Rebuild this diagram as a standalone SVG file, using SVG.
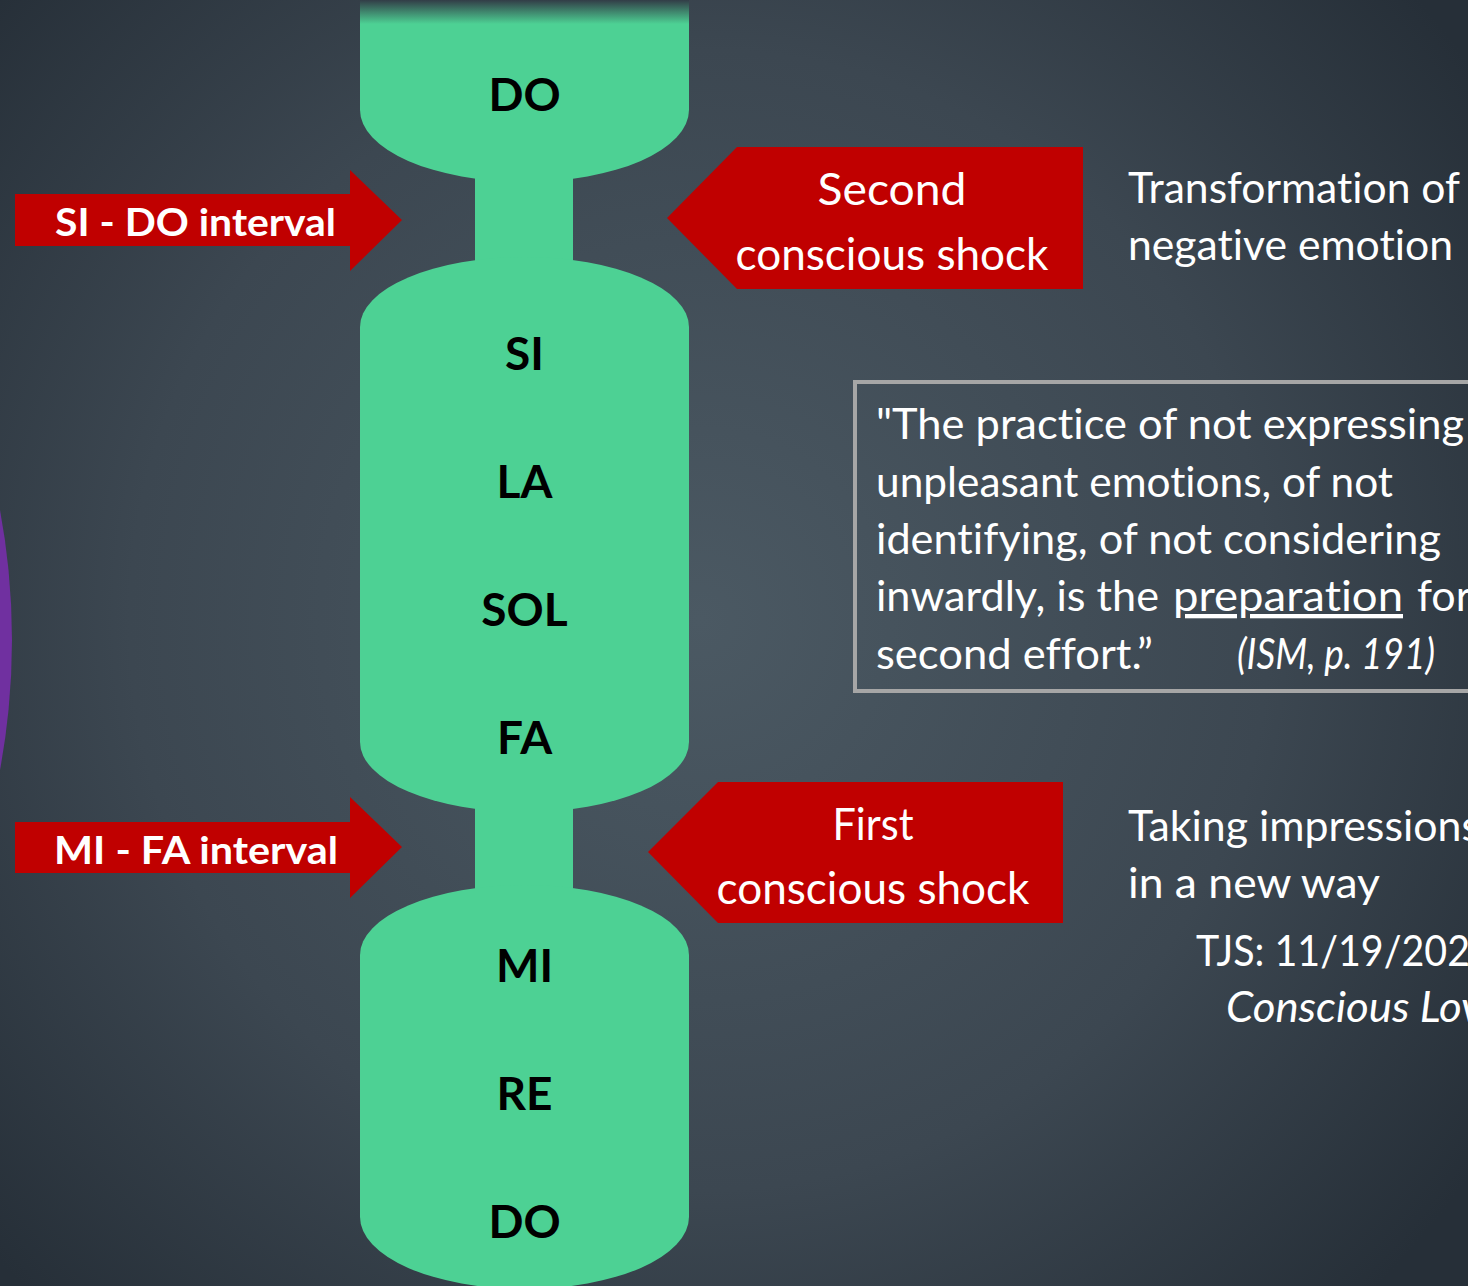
<svg xmlns="http://www.w3.org/2000/svg" width="1468" height="1286" viewBox="0 0 1468 1286">
<defs>
<radialGradient id="bg" gradientUnits="userSpaceOnUse" cx="700" cy="620" r="950">
<stop offset="0" stop-color="#4b5963"/>
<stop offset="0.6" stop-color="#3c4751"/>
<stop offset="1" stop-color="#262f38"/>
</radialGradient>
<linearGradient id="fade" x1="0" y1="0" x2="0" y2="1">
<stop offset="0" stop-color="#323d47" stop-opacity="1"/>
<stop offset="1" stop-color="#323d47" stop-opacity="0"/>
</linearGradient>
<style>
text{font-variant-ligatures:none}
.green{fill:#4dd194}
.note{font-family:Lato,"DejaVu Sans",sans-serif;font-weight:bold;font-size:46px;fill:#000;text-anchor:middle}
.red{fill:#c00000}
.intv{font-family:Lato,"Liberation Sans",sans-serif;font-weight:bold;font-size:38px;fill:#fff}
.shock{font-family:Lato,"DejaVu Sans",sans-serif;font-size:44px;fill:#fff;text-anchor:middle}
.body{font-family:Lato,"DejaVu Sans",sans-serif;font-size:43px;fill:#fff}
.it{font-style:italic}
</style>
</defs>
<rect width="1468" height="1286" fill="url(#bg)"/>
<circle cx="-698" cy="640" r="710" fill="#7030a0"/>

<g id="scale">
<path class="green" d="M360,0 L689,0 L689,110 A164.5,72 0 0 1 360,110 Z"/>
<rect class="green" x="475" y="165" width="98" height="105"/>
<path class="green" d="M360,327 A164.5,70 0 0 1 689,327 L689,742 A164.5,70 0 0 1 360,742 Z"/>
<rect class="green" x="475" y="795" width="98" height="100"/>
<path class="green" d="M360,955 A164.5,70 0 0 1 689,955 L689,1217 A164.5,72 0 0 1 360,1217 Z"/>
<rect x="360" y="0" width="329" height="24" fill="url(#fade)"/>
<text class="note" x="524.5" y="111">DO</text>
<text class="note" x="524.5" y="370">SI</text>
<text class="note" x="524.5" y="498">LA</text>
<text class="note" x="524.5" y="626">SOL</text>
<text class="note" x="524.5" y="754">FA</text>
<text class="note" x="524.5" y="982">MI</text>
<text class="note" x="524.5" y="1110">RE</text>
<text class="note" x="524.5" y="1238">DO</text>
</g>

<g id="si-do-interval">
<polygon class="red" points="15,194 350,194 350,170 402,220 350,271 350,246 15,246"/>
<text class="intv" x="55" y="236" textLength="281" lengthAdjust="spacingAndGlyphs">SI - DO interval</text>
</g>

<g id="mi-fa-interval">
<polygon class="red" points="15,822 350,822 350,797 402,847 350,898 350,873 15,873"/>
<text class="intv" x="54" y="864" textLength="284" lengthAdjust="spacingAndGlyphs">MI - FA interval</text>
</g>

<g id="second-shock">
<polygon class="red" points="667,218 737,147 1083,147 1083,289 737,289"/>
<text class="shock" x="892" y="205" textLength="149" lengthAdjust="spacingAndGlyphs">Second</text>
<text class="shock" x="892" y="270" textLength="313" lengthAdjust="spacingAndGlyphs">conscious shock</text>
</g>

<g id="first-shock">
<polygon class="red" points="648,852 718,782 1063,782 1063,923 718,923"/>
<text class="shock" x="873" y="840" textLength="81" lengthAdjust="spacingAndGlyphs">First</text>
<text class="shock" x="873" y="904" textLength="313" lengthAdjust="spacingAndGlyphs">conscious shock</text>
</g>

<g id="second-shock-note">
<text class="body" x="1128" y="203" textLength="332" lengthAdjust="spacingAndGlyphs">Transformation of</text>
<text class="body" x="1128" y="260" textLength="325" lengthAdjust="spacingAndGlyphs">negative emotion</text>
</g>

<g id="quote">
<rect x="855" y="382" width="700" height="309" fill="none" stroke="#a6a6a6" stroke-width="4"/>
<text class="body" x="876" y="439" textLength="588" lengthAdjust="spacingAndGlyphs">"The practice of not expressing</text>
<text class="body" x="876" y="497" textLength="517" lengthAdjust="spacingAndGlyphs">unpleasant emotions, of not</text>
<text class="body" x="876" y="554" textLength="565" lengthAdjust="spacingAndGlyphs">identifying, of not considering</text>
<text class="body" x="876" y="611" textLength="283" lengthAdjust="spacingAndGlyphs">inwardly, is the</text>
<text class="body" x="1173" y="611" textLength="230" lengthAdjust="spacingAndGlyphs" text-decoration="underline">preparation</text>
<text class="body" x="1417" y="611">for</text>
<text class="body" x="876" y="669" textLength="277" lengthAdjust="spacingAndGlyphs">second effort.”</text>
<text class="body it" x="1237" y="669" font-size="34" textLength="198" lengthAdjust="spacingAndGlyphs">(ISM, p. 191)</text>
</g>

<g id="first-shock-note">
<text class="body" x="1128" y="841" textLength="352" lengthAdjust="spacingAndGlyphs">Taking impressions</text>
<text class="body" x="1128" y="898" textLength="252" lengthAdjust="spacingAndGlyphs">in a new way</text>
</g>

<g id="credit">
<text class="body" x="1196" y="966" textLength="274" lengthAdjust="spacingAndGlyphs">TJS: 11/19/202</text>
<text class="body it" x="1226" y="1022" textLength="256" lengthAdjust="spacingAndGlyphs">Conscious Lov</text>
</g>
<g id="connectors"/>
</svg>
